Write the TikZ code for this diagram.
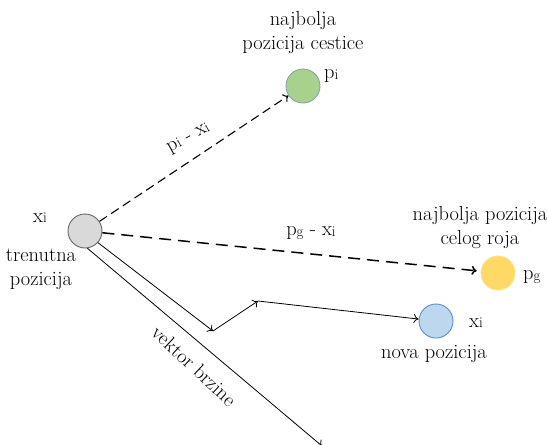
\documentclass[tikz,border=0pt]{standalone}
\usetikzlibrary{arrows.meta}
\newcommand{\sbx}[1]{\raisebox{-0.6pt}{\fontsize{15}{15}\selectfont #1}}
\begin{document}
\begin{tikzpicture}[x=1pt,y=-1pt,
  every node/.style={font=\fontsize{20.4}{24}\selectfont, inner sep=0pt},
  particle/.style={circle, minimum size=34pt, line width=0.9pt},
  arr/.style={-{To[length=5pt,width=9pt]}, line width=0.8pt},
  dsh/.style={arr, line width=1.1pt, dash pattern=on 9pt off 5pt},
  dshb/.style={arr, line width=1.5pt, dash pattern=on 12pt off 7pt},
  lbl/.style={align=center}]
\useasboundingbox (0,0) rectangle (547,445);
\node[particle, fill=gray!30, draw=gray!80!black] (cur) at (85,231) {};
\node[particle, fill={rgb,255:red,169;green,209;blue,142}, draw={rgb,255:red,140;green,160;blue,170}] (pbest) at (303,86) {};
\node[particle, fill={rgb,255:red,255;green,217;blue,102}, draw={rgb,255:red,255;green,225;blue,140}] (gbest) at (498,273) {};
\node[particle, fill={rgb,255:red,189;green,215;blue,238}, draw={rgb,255:red,91;green,140;blue,200}] (new) at (436,321) {};

\coordinate (b) at (213,331);
\coordinate (c) at (258,301);
\coordinate (e) at (322,446);

\draw[dsh] (cur) -- (pbest);
\draw[dshb, shorten >=4pt] (cur) -- (gbest);
\draw[arr] (cur.-42) -- (b);
\draw[arr] (b) -- (c);
\draw[arr] (c) -- (new);
\draw[arr] (cur.-82) -- (e);

\node[lbl] (t1) at (303,32) {najbolja\\pozicija cestice};
\node[anchor=west] (l1) at (324,76) {p\sbx{i}};
\node (l2) at (40,218) {x\sbx{i}};
\node[lbl] (t2) at (41,269) {trenutna\\pozicija};
\node[lbl] (t3) at (480,227) {najbolja pozicija\\celog roja};
\node[anchor=west] (l3) at (523,277) {p\sbx{g}};
\node (l4) at (476,323) {x\sbx{i}};
\node (t4) at (434,354) {nova pozicija};
\node[rotate=29] (e1) at (189,139) {p\sbx{i} - x\sbx{i}};
\node (e2) at (311,233) {p\sbx{g} - x\sbx{i}};
\node[rotate=-43] (e3) at (194,366) {vektor brzine};
\end{tikzpicture}
\end{document}
